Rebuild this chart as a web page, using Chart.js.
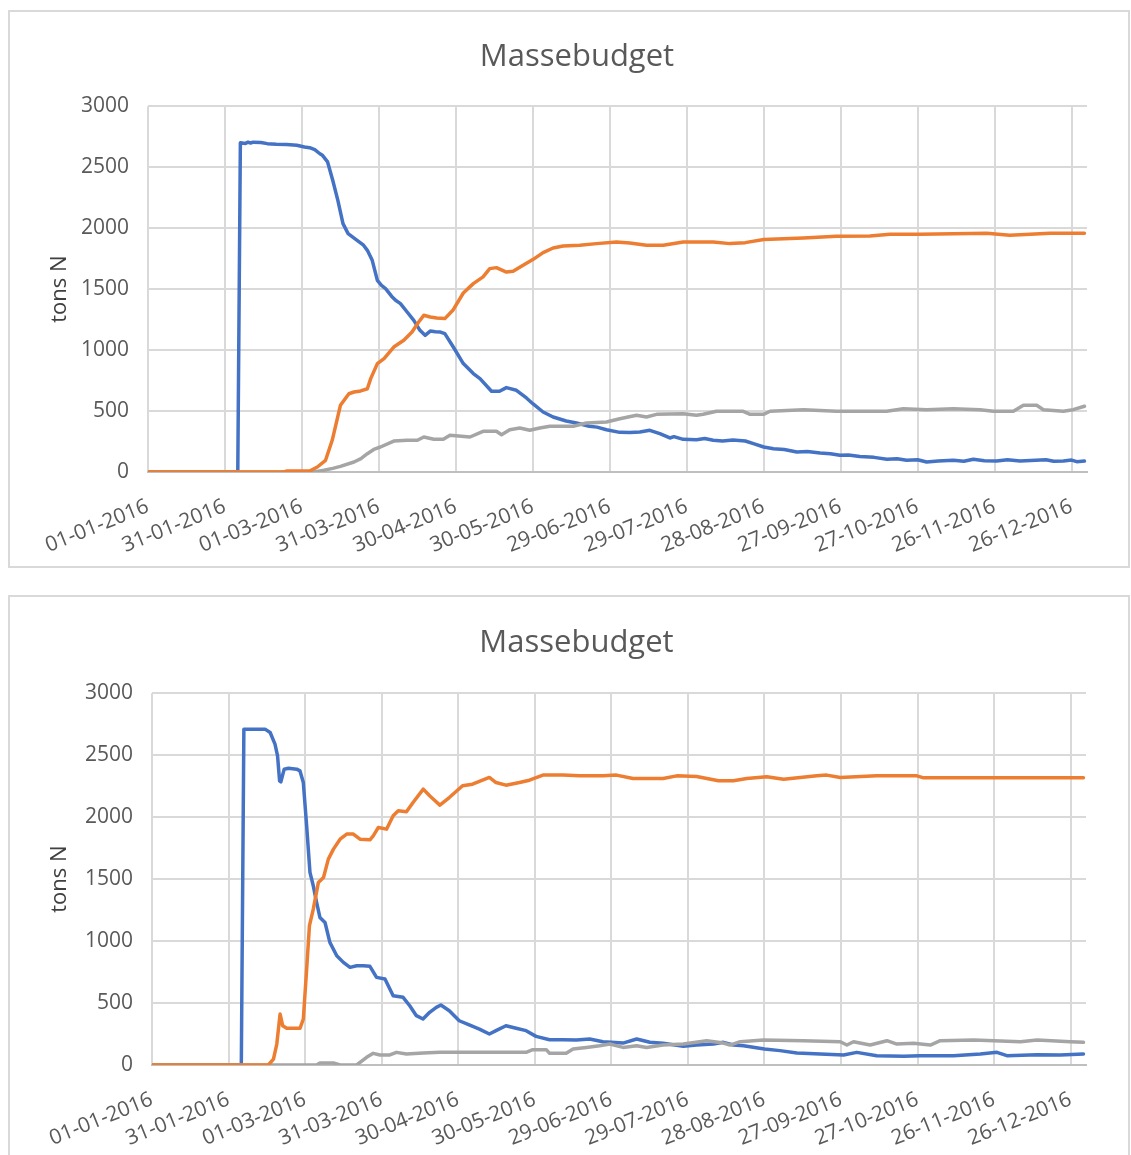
<!DOCTYPE html>
<html>
<head>
<meta charset="utf-8">
<script src="https://cdn.jsdelivr.net/npm/chart.js@4.4.1/dist/chart.umd.min.js"></script>
<style>
  html, body { margin: 0; padding: 0; background: #ffffff; }
  body { width: 1131px; height: 1155px; position: relative; overflow: hidden; }
  .frame { position: absolute; box-sizing: border-box; border: 2px solid #d9d9d9; background: #fff; }
  canvas { position: absolute; left: 0; }
</style>
</head>
<body>
<div class="frame" style="left:8px; top:10px; width:1122px; height:558px;"></div>
<div class="frame" style="left:8px; top:595px; width:1122px; height:580px;"></div>
<canvas id="c1" width="1131" height="567" style="top:0px;"></canvas>
<canvas id="c2" width="1131" height="565" style="top:590px;"></canvas>
<script>
// ---- tick labels (every 30 days from 01-01-2016) ----
const tickDays = [0, 30, 60, 90, 120, 150, 180, 210, 240, 270, 300, 330, 360];
const tickLabels = ['01-01-2016','31-01-2016','01-03-2016','31-03-2016','30-04-2016','30-05-2016',
  '29-06-2016','29-07-2016','28-08-2016','27-09-2016','27-10-2016','26-11-2016','26-12-2016'];
const yTicks = [0, 500, 1000, 1500, 2000, 2500, 3000];

// ---- chart 1 series: [day of year, tons N] ----
const blue1 = [[0,0],[35,0],[36,2700],[38,2695],[39,2705],[40,2698],[41,2705],[44,2703],[46.5,2693],[50,2688],[54,2685],[58,2680],[61,2666],[63,2660],[65,2644],[67,2610],[68,2597],[70,2543],[72,2392],[74,2228],[76,2037],[78,1955],[81.5,1900],[84,1860],[85.5,1818],[87.4,1736],[89.4,1572],[91,1530],[92.6,1504],[95,1440],[96.5,1408],[98.4,1381],[101,1312],[103.6,1244],[106,1162],[108,1121],[110,1156],[112,1150],[114,1148],[115.7,1135],[119,1025],[122.9,889],[126.8,807],[129.4,766],[133.9,662],[137,662],[139.7,692],[143.6,670],[147.5,607],[150,560],[154,492],[157.9,451],[163,418],[167,402],[172,375],[175,368],[178.7,347],[183.9,325],[187.8,323],[191.7,328],[195.6,342],[199.5,314],[203.4,279],[205,290],[208.6,268],[213.8,265],[217,275],[220.3,260],[224,254],[228,262],[232.8,254],[236,232],[240,205],[243.8,191],[248,185],[252.9,164],[257,168],[262,156],[266,150],[269.7,137],[273,140],[277.5,128],[283,120],[288,104],[292,108],[295.7,96],[300,100],[303.5,82],[308,90],[313.9,96],[318,88],[321.7,104],[326,92],[330.8,90],[335,100],[339.9,90],[344,95],[350,101],[353,88],[356.8,90],[360,98],[362,85],[365,90]];
const orange1 = [[0,0],[53,0],[54,8],[63,8],[66,41],[69.2,96],[71.8,260],[75,547],[78.3,642],[80.3,656],[82.9,665],[85.5,683],[86.8,766],[89.4,889],[92,930],[95.8,1025],[99.7,1080],[102.9,1148],[105.5,1230],[107.5,1285],[110,1271],[112.5,1263],[115.7,1258],[119,1331],[122.9,1468],[126.8,1545],[130.6,1600],[133.2,1668],[135.8,1676],[139.7,1640],[142.3,1646],[146.2,1695],[150,1742],[154,1799],[157.9,1837],[161.8,1854],[168.3,1859],[174.8,1873],[182.6,1887],[187.8,1878],[194.3,1859],[200.8,1859],[208.6,1887],[220.3,1887],[226.8,1873],[232.8,1881],[240,1906],[255.5,1919],[268.4,1933],[281.4,1936],[289.2,1949],[300.9,1949],[326.9,1958],[335.9,1941],[339.9,1946],[351.6,1958],[365,1958]];
const gray1 = [[0,0],[64.7,0],[68.6,14],[72,30],[75,46],[80.3,82],[83,110],[85.5,150],[88,185],[90.6,205],[95.8,254],[101,260],[105,260],[107.5,287],[111.4,268],[115.1,268],[117.7,301],[125.5,287],[130.6,334],[135.8,334],[137.8,306],[141,347],[144.9,361],[148.8,342],[152.7,361],[156.6,375],[165.7,375],[170.9,402],[178.7,410],[183.9,437],[190.4,465],[194.3,451],[198.2,473],[208.6,478],[213.8,465],[216.4,473],[221.6,498],[232,498],[234.7,473],[239.9,473],[242.5,498],[255.5,511],[268.4,498],[287.9,498],[294.4,519],[303.5,511],[313.9,519],[324.3,511],[329.5,498],[337.3,498],[341.2,547],[346.4,547],[349,511],[356.8,498],[360.6,511],[365,539]];

// ---- chart 2 series: [day of year, tons N] ----
const blue2 = [[0,0],[35,0],[36,2710],[44.3,2710],[46.3,2683],[48.2,2589],[49.2,2494],[50,2293],[50.5,2285],[51.8,2387],[53.5,2395],[56.7,2387],[58,2373],[59.3,2279],[60.6,1930],[61.9,1554],[63.2,1446],[64.5,1312],[65.8,1191],[67.8,1150],[69.7,989],[72.4,882],[75,828],[77.6,788],[80.2,801],[82.8,801],[85.4,796],[88,707],[91.3,694],[94.5,559],[98.4,546],[101,478],[103.6,398],[106.2,371],[108.8,425],[111.4,465],[113.2,484],[116.5,438],[120.4,357],[124.3,323],[128.3,290],[132.2,250],[134.8,277],[138.7,317],[142.7,296],[146.6,277],[150.5,231],[155.8,204],[161,204],[166.3,202],[171.5,210],[176.7,188],[184.6,177],[189.9,210],[195.1,183],[200.3,175],[208.2,151],[213.4,161],[220,169],[223.9,183],[227.8,161],[231.8,156],[240,129],[246.1,116],[252.7,97],[261.8,89],[271,81],[276.2,102],[284,75],[294.5,70],[301,75],[314.1,75],[324.6,89],[331.1,102],[335,75],[346.8,83],[355.9,81],[365,89]];
const orange2 = [[0,0],[45.6,0],[47.6,48],[48.9,169],[50.2,411],[51.2,317],[52.8,296],[58,296],[59.3,371],[60.6,774],[61.7,1124],[63.2,1258],[65.2,1473],[67.2,1513],[69.1,1661],[71.1,1742],[73.7,1822],[76.3,1863],[78.9,1863],[81.5,1822],[85.4,1817],[86.7,1849],[88.7,1917],[91.9,1903],[94.5,2011],[96.5,2051],[99.7,2043],[102.3,2118],[106.3,2226],[108.9,2170],[110.5,2140],[112.8,2097],[116.5,2158],[121.7,2253],[125.6,2266],[132.2,2320],[134.8,2279],[138.7,2258],[144,2279],[147.9,2298],[153.2,2339],[161,2339],[167.6,2333],[176.7,2333],[182,2339],[188.5,2312],[200.3,2312],[205.6,2333],[213.4,2328],[222,2293],[227.8,2293],[233.1,2312],[240.9,2325],[247.5,2306],[260.5,2333],[264.4,2339],[269.7,2320],[284,2333],[299.7,2333],[302.4,2317],[365,2317]];
const gray2 = [[0,0],[64.5,0],[65.8,16],[71.1,16],[73.7,0],[80.2,0],[84.1,62],[86.7,94],[89.3,81],[93.2,81],[95.8,102],[99.7,89],[106.3,97],[112.8,102],[146.6,102],[149.2,124],[154.5,124],[155.8,94],[162.3,94],[165,129],[170.2,142],[175.4,156],[179.4,169],[184.6,142],[189.9,156],[193.8,142],[200.3,161],[208.2,169],[217.4,196],[223.9,177],[226.5,161],[230.5,188],[239.6,202],[255.3,196],[269.7,188],[272.3,161],[274.9,188],[281.4,161],[288,196],[291.9,169],[298.4,175],[305,161],[308.9,196],[322,202],[340.3,188],[346.8,202],[359.9,188],[365,183]];

const FONT = 'Open Sans';
const TXT = '#595959';
const GRID = '#d9d9d9';

function pts(arr) { return arr.map(p => ({ x: p[0], y: p[1] })); }

function makeChart(id, blue, orange, gray, L) {
  return new Chart(document.getElementById(id), {
    type: 'line',
    data: {
      datasets: [
        { label: 'Serie 1', data: pts(blue), borderColor: '#4472C4', order: 2 },
        { label: 'Serie 2', data: pts(orange), borderColor: '#ED7D31', order: 0 },
        { label: 'Serie 3', data: pts(gray), borderColor: '#A5A5A5', order: 1 }
      ]
    },
    options: {
      responsive: false,
      animation: false,
      devicePixelRatio: 1,
      elements: {
        point: { radius: 0, hoverRadius: 0 },
        line: { borderWidth: 3.5, tension: 0, fill: false, borderJoinStyle: 'round', borderCapStyle: 'round' }
      },
      layout: { padding: { left: L.padL, right: L.padR, top: 0, bottom: 0 } },
      plugins: {
        legend: { display: false },
        tooltip: { enabled: false },
        title: {
          display: true, text: 'Massebudget', color: TXT,
          font: { family: FONT, size: 31, weight: 'normal', lineHeight: 1.2 },
          padding: { top: L.titleTop, bottom: L.titleBottom }
        }
      },
      scales: {
        x: {
          type: 'linear', min: 0, max: 366,
          afterBuildTicks: s => { s.ticks = tickDays.map(v => ({ value: v })); },
          afterFit: s => { s.height = L.xH; },
          ticks: {
            autoSkip: false, minRotation: 22, maxRotation: 22, padding: 22,
            color: TXT, font: { family: FONT, size: 21 },
            callback: v => tickLabels[tickDays.indexOf(v)]
          },
          grid: { color: GRID, lineWidth: 2, drawTicks: false },
          border: { color: '#bfbfbf', width: 2 }
        },
        y: {
          min: 0, max: 3000,
          afterBuildTicks: s => { s.ticks = yTicks.map(v => ({ value: v })); },
          afterFit: s => { s.width = L.yW; },
          ticks: { padding: 19, color: TXT, font: { family: FONT, size: 21 }, callback: v => String(v) },
          grid: { color: GRID, lineWidth: 2, drawTicks: false },
          border: { display: false },
          title: {
            display: true, text: 'tons N', color: '#404040',
            font: { family: FONT, size: 22, weight: 'normal', lineHeight: 1.2 },
            padding: { top: -20, bottom: 0 }
          }
        }
      }
    }
  });
}

makeChart('c1', blue1, orange1, gray1, { padL: 67, padR: 44, titleTop: 39, titleBottom: 30, xH: 95, yW: 81 });
makeChart('c2', blue2, orange2, gray2, { padL: 67, padR: 45, titleTop: 35, titleBottom: 31, xH: 90, yW: 85 });
</script>
</body>
</html>
